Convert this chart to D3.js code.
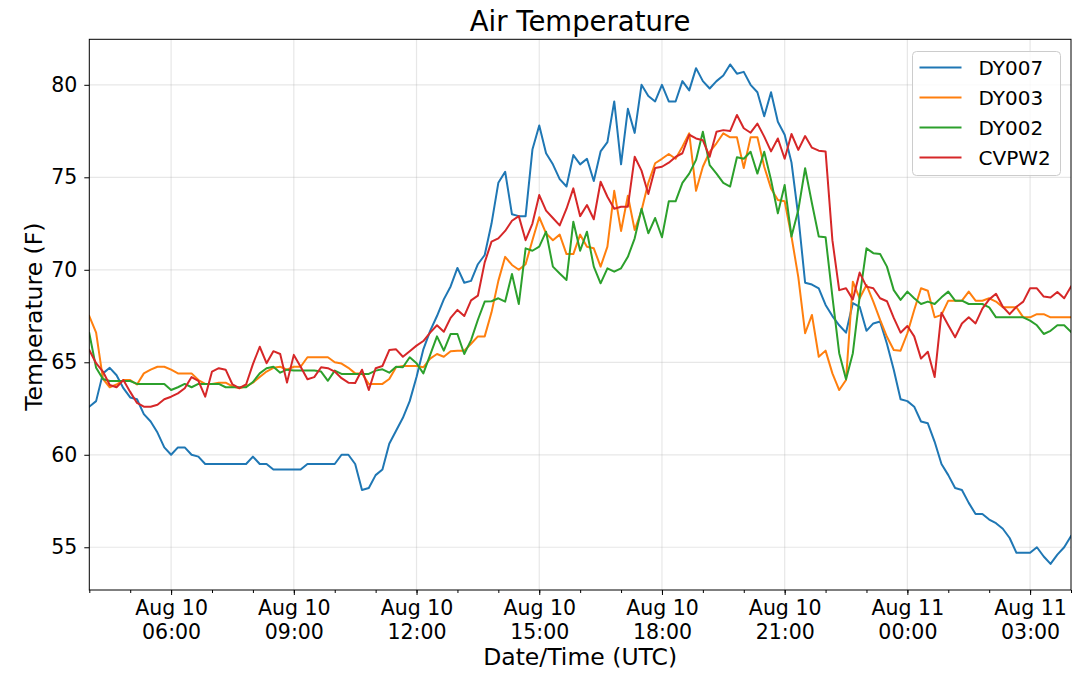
<!DOCTYPE html>
<html>
<head>
<meta charset="utf-8">
<script src="https://cdn.jsdelivr.net/npm/d3@7"></script>
<style>
  body { margin: 0; background: #fff; }
  text { font-family: "DejaVu Sans", sans-serif; fill: #000; }
</style>
</head>
<body>
<div id="chart-area"></div>
<script>
/* Air temperature, four stations, 10 minute readings */

var seriesNames = ["DY007", "DY003", "DY002", "CVPW2"];
var seriesColors = ["#1f77b4", "#ff7f0e", "#2ca02c", "#d62728"];

// readings every 10 minutes, Aug 10 04:00 UTC to Aug 11 04:00 UTC
var dy007 = [
    62.6, 62.9, 64.4, 64.7, 64.3, 63.6,
    63.1, 63.0, 62.2, 61.8, 61.2, 60.4,
    60.0, 60.4, 60.4, 60.0, 59.9, 59.5,
    59.5, 59.5, 59.5, 59.5, 59.5, 59.5,
    59.9, 59.5, 59.5, 59.2, 59.2, 59.2,
    59.2, 59.2, 59.5, 59.5, 59.5, 59.5,
    59.5, 60.0, 60.0, 59.5, 58.1, 58.2,
    58.9, 59.2, 60.6, 61.3, 62.0, 62.9,
    64.2, 65.7, 66.7, 67.5, 68.4, 69.1,
    70.1, 69.3, 69.4, 70.3, 70.8, 72.5,
    74.7, 75.3, 73.0, 72.9, 72.9, 76.5,
    77.8, 76.3, 75.7, 74.9, 74.5, 76.2,
    75.7, 76.0, 74.8, 76.4, 76.9, 79.1,
    75.7, 78.7, 77.4, 80.0, 79.4, 79.1,
    80.0, 79.1, 79.1, 80.2, 79.7, 80.9,
    80.2, 79.8, 80.2, 80.5, 81.1, 80.6,
    80.7, 80.0, 79.6, 78.3, 79.6, 78.0,
    77.3, 75.8, 72.9, 69.3, 69.2, 69.0,
    68.1, 67.5, 67.0, 66.6, 68.2, 68.0,
    66.7, 67.1, 67.2, 66.0, 64.6, 63.0,
    62.9, 62.6, 61.8, 61.7, 60.7, 59.5,
    58.9, 58.2, 58.1, 57.4, 56.8, 56.8,
    56.5, 56.3, 56.0, 55.5, 54.7, 54.7,
    54.7, 55.0, 54.5, 54.1, 54.6, 55.0,
    55.6
];

var dy003 = [
    67.5, 66.6, 64.1, 63.65, 63.8, 64.04,
    64.04, 63.8, 64.4, 64.6, 64.76, 64.76,
    64.6, 64.4, 64.4, 64.4, 64.04, 63.83,
    63.83, 63.9, 63.9, 63.7, 63.6, 63.7,
    63.9, 64.2, 64.5, 64.7, 64.76, 64.6,
    64.76, 64.76, 65.27, 65.27, 65.27, 65.27,
    65.0, 64.93, 64.7, 64.4, 64.4, 63.83,
    63.83, 63.83, 64.1, 64.73, 64.8, 64.8,
    64.8, 64.73, 65.2, 65.45, 65.3, 65.6,
    65.63, 65.63, 66.0, 66.4, 66.4, 67.7,
    69.4, 70.7, 70.26, 70.0, 70.3, 71.6,
    72.84, 71.97, 71.6, 71.9, 70.85, 70.85,
    71.9, 71.25, 71.16, 70.17, 71.25, 74.27,
    72.1, 74.0, 72.15, 73.2, 74.7, 75.76,
    76.0, 76.26, 76.0, 76.65, 77.38, 74.27,
    75.57, 76.38, 76.84, 77.38, 77.16, 77.16,
    75.5, 77.16, 77.16, 75.57, 74.4, 73.77,
    73.7, 71.8, 69.6, 66.57, 67.56, 65.3,
    65.63, 64.4, 63.5, 64.04, 69.36, 68.46,
    69.18, 68.28, 67.29, 66.38, 65.66, 65.63,
    66.57, 67.83, 69.0, 68.87, 67.43, 67.56,
    68.33, 68.33, 68.33, 68.82, 68.33, 68.33,
    68.46, 68.28, 67.97, 67.97, 67.97, 67.43,
    67.43, 67.6, 67.6, 67.43, 67.43, 67.43,
    67.43
];

var dy002 = [
    66.57, 64.7, 64.1, 63.99, 63.99, 63.99,
    63.99, 63.83, 63.83, 63.83, 63.83, 63.83,
    63.5, 63.65, 63.83, 63.65, 63.83, 63.83,
    63.83, 63.83, 63.65, 63.65, 63.65, 63.65,
    63.93, 64.4, 64.68, 64.76, 64.44, 64.6,
    64.55, 64.55, 64.55, 64.55, 64.5, 64.0,
    64.55, 64.37, 64.37, 64.37, 64.37, 64.37,
    64.55, 64.62, 64.44, 64.76, 64.73, 65.27,
    64.95, 64.4, 65.4, 66.4, 65.63, 66.53,
    66.53, 65.45, 66.2, 67.3, 68.28, 68.3,
    68.46, 68.28, 69.77, 68.15, 71.16, 71.03,
    71.25, 72.06, 70.17, 69.8, 69.45, 72.6,
    71.03, 72.06, 70.17, 69.27, 70.08, 69.9,
    70.08, 70.7, 71.7, 73.3, 71.97, 72.8,
    71.76, 73.7, 73.7, 74.7, 75.2, 75.94,
    77.46, 75.66, 75.2, 74.7, 74.5, 76.08,
    76.0, 76.38, 75.2, 76.38, 74.85, 73.05,
    74.58, 71.8, 73.23, 75.49, 73.6, 71.8,
    71.76, 68.55, 65.49, 64.08, 65.49, 68.55,
    71.16, 70.9, 70.85, 70.17, 68.9, 68.37,
    68.82, 68.46, 68.15, 68.28, 68.15, 68.51,
    68.82, 68.33, 68.33, 68.15, 68.15, 68.15,
    67.97, 67.43, 67.43, 67.43, 67.43, 67.43,
    67.25, 67.0, 66.53, 66.7, 67.0, 67.0,
    66.65
];

var cvpw2 = [
    65.66, 64.95, 64.5, 63.77, 63.65, 64.04,
    63.4, 62.8, 62.6, 62.6, 62.7, 63.0,
    63.14, 63.32, 63.6, 64.2, 64.0, 63.14,
    64.5, 64.68, 64.6, 63.8, 63.6, 63.8,
    64.9, 65.84, 64.95, 65.6, 65.45, 63.9,
    65.4, 64.76, 64.08, 64.2, 64.73, 64.68,
    64.5, 64.14, 63.9, 63.88, 64.6, 63.5,
    64.68, 64.8, 65.66, 65.7, 65.3, 65.6,
    65.9, 66.15, 66.6, 67.0, 66.65, 67.4,
    67.83, 67.5, 68.35, 68.6, 70.4, 71.52,
    71.7, 72.1, 72.65, 72.9, 71.6, 72.5,
    74.04, 73.2, 72.8, 72.4, 73.3, 74.4,
    72.9, 73.5, 72.73, 74.76, 73.95, 73.3,
    73.41, 73.41, 76.11, 75.36, 74.1, 75.5,
    75.57, 75.79, 76.1, 76.3, 77.3, 77.1,
    77.0, 76.11, 77.46, 77.55, 77.5, 78.37,
    77.65, 77.41, 77.9, 77.2, 76.4, 77.1,
    76.0, 77.34, 76.48, 77.23, 76.6, 76.44,
    76.4, 71.6, 68.9, 69.0, 68.4, 69.85,
    69.09, 69.0, 68.46, 68.3, 67.4, 66.6,
    66.96, 66.4, 65.2, 65.57, 64.2, 67.68,
    67.0, 66.35, 67.1, 67.43, 67.1, 67.9,
    68.4, 68.7, 68.0, 67.6, 68.0, 68.28,
    69.0, 69.0, 68.55, 68.5, 68.8, 68.46,
    69.09
];

var yTicks = [55, 60, 65, 70, 75, 80];
// major x ticks, hours after Aug 10 00:00 UTC
var xTickHours = [6, 9, 12, 15, 18, 21, 24, 27];
var xTickLines1 = ["Aug 10", "Aug 10", "Aug 10", "Aug 10", "Aug 10", "Aug 10", "Aug 11", "Aug 11"];
var xTickLines2 = ["06:00", "09:00", "12:00", "15:00", "18:00", "21:00", "00:00", "03:00"];

var margin = { left: 89.3, right: 8, top: 39.3, bottom: 85 };
var fullWidth = 1079, fullHeight = 675;
var width = fullWidth - margin.left - margin.right;
var height = fullHeight - margin.top - margin.bottom;

var day0 = Date.UTC(2019, 7, 10, 0, 0);
var start = Date.UTC(2019, 7, 10, 4, 0);
var times = dy007.map(function(d, i) {
    return new Date(start + i * 10 * 60000);
});

var svg = d3.select("#chart-area")
    .append("svg")
    .attr("width", fullWidth)
    .attr("height", fullHeight);

var g = svg.append("g")
    .attr("transform", "translate(" + margin.left + "," + margin.top + ")");

var x = d3.scaleUtc()
    .domain([times[0], times[times.length - 1]])
    .range([0, width]);

var y = d3.scaleLinear()
    .domain([52.69, 82.46])
    .range([height, 0]);

var majorTimes = xTickHours.map(function(h) {
    return new Date(day0 + h * 3600000);
});

// grid
g.append("g").selectAll("line.gx")
    .data(majorTimes)
    .enter().append("line")
    .attr("x1", function(d) { return x(d); })
    .attr("x2", function(d) { return x(d); })
    .attr("y1", 0).attr("y2", height)
    .attr("stroke", "#b0b0b0").attr("stroke-opacity", 0.3).attr("stroke-width", 1.2);

g.append("g").selectAll("line.gy")
    .data(yTicks)
    .enter().append("line")
    .attr("x1", 0).attr("x2", width)
    .attr("y1", function(d) { return y(d); })
    .attr("y2", function(d) { return y(d); })
    .attr("stroke", "#b0b0b0").attr("stroke-opacity", 0.3).attr("stroke-width", 1.2);

// lines
var allSeries = [dy007, dy003, dy002, cvpw2];
var line = d3.line()
    .x(function(d, i) { return x(times[i]); })
    .y(function(d) { return y(d); });

svg.append("clipPath").attr("id", "plotclip")
    .append("rect").attr("width", width).attr("height", height);

g.append("g").attr("clip-path", "url(#plotclip)")
    .selectAll("path")
    .data(allSeries)
    .enter().append("path")
    .attr("d", line)
    .attr("fill", "none")
    .attr("stroke", function(d, i) { return seriesColors[i]; })
    .attr("stroke-width", 2)
    .attr("stroke-linejoin", "round")
    .attr("stroke-linecap", "square");

// axes
var xMinor = d3.axisBottom(x)
    .ticks(d3.utcHour.every(1))
    .tickSize(3)
    .tickFormat("");
g.append("g")
    .attr("transform", "translate(0," + height + ")")
    .call(xMinor)
    .call(function(a) { a.select(".domain").remove(); });

var xMajor = d3.axisBottom(x)
    .tickValues(majorTimes)
    .tickSize(5)
    .tickFormat("");
var xAxis = g.append("g")
    .attr("transform", "translate(0," + height + ")")
    .call(xMajor);
xAxis.select(".domain").remove();

xAxis.selectAll(".tick").append("text")
    .attr("text-anchor", "middle")
    .attr("font-size", 20.5)
    .each(function(d, i) {
        var t = d3.select(this);
        t.append("tspan").attr("x", 0).attr("y", 24.5).text(xTickLines1[i]);
        t.append("tspan").attr("x", 0).attr("y", 49).text(xTickLines2[i]);
    });

var yAxis = g.append("g")
    .call(d3.axisLeft(y).tickValues(yTicks).tickSize(5).tickPadding(7));
yAxis.select(".domain").remove();
yAxis.selectAll("text").attr("font-size", 20.5).attr("font-family", "DejaVu Sans");

g.selectAll(".tick line").attr("stroke", "#000");

// frame
g.append("rect")
    .attr("width", width).attr("height", height)
    .attr("fill", "none").attr("stroke", "#000").attr("stroke-width", 1);

// titles
svg.append("text")
    .attr("x", margin.left + width / 2).attr("y", 30.7)
    .attr("text-anchor", "middle").attr("font-size", 27.5)
    .text("Air Temperature");

svg.append("text")
    .attr("x", margin.left + width / 2).attr("y", 664.5)
    .attr("text-anchor", "middle").attr("font-size", 23.5)
    .text("Date/Time (UTC)");

svg.append("text")
    .attr("transform", "translate(42," + (margin.top + height / 2 + 2) + ") rotate(-90)")
    .attr("text-anchor", "middle").attr("font-size", 23.5)
    .text("Temperature (F)");

// legend
var legend = svg.append("g").attr("transform", "translate(912.5,51.5)");
legend.append("rect")
    .attr("width", 148).attr("height", 124).attr("rx", 4)
    .attr("fill", "#fff").attr("fill-opacity", 0.8)
    .attr("stroke", "#cccccc").attr("stroke-width", 1);

var items = legend.selectAll("g.item")
    .data(seriesNames)
    .enter().append("g")
    .attr("transform", function(d, i) { return "translate(0," + (16 + i * 30) + ")"; });

items.append("line")
    .attr("x1", 7).attr("x2", 49)
    .attr("stroke", function(d, i) { return seriesColors[i]; })
    .attr("stroke-width", 2);

items.append("text")
    .attr("x", 66).attr("y", 7)
    .attr("font-size", 20)
    .text(function(d) { return d; });
</script>
</body>
</html>
